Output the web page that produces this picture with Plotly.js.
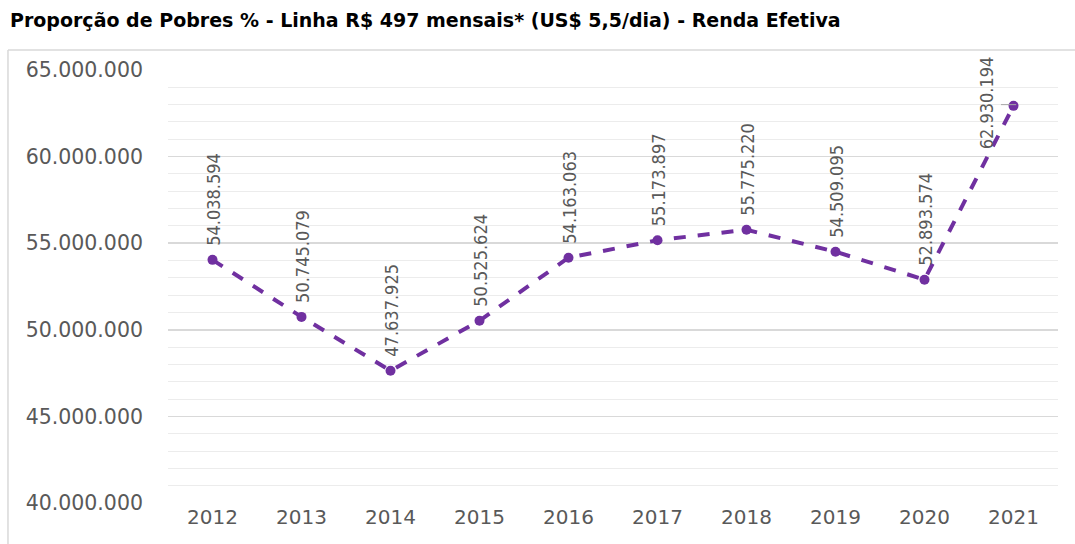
<!DOCTYPE html>
<html>
<head>
<meta charset="utf-8">
<script src="https://cdn.plot.ly/plotly-3.0.1.min.js"></script>
<style>html,body{margin:0;padding:0;background:#fff;}#chart{width:1075px;height:544px;}</style>
</head>
<body>
<div id="chart"></div>
<script>
const years = ['2012','2013','2014','2015','2016','2017','2018','2019','2020','2021'];
const pobres = [54038594, 50745079, 47637925, 50525624, 54163063, 55173897, 55775220, 54509095, 52893574, 62930194];
const yTicks = [40000000, 45000000, 50000000, 55000000, 60000000, 65000000];
const yTickText = ['40.000.000','45.000.000','50.000.000','55.000.000','60.000.000','65.000.000'];
const labels = ['54.038.594','50.745.079','47.637.925','50.525.624','54.163.063','55.173.897','55.775.220','54.509.095','52.893.574','62.930.194'];

const annotations = years.map((y, i) => {
  const last = i === years.length - 1;
  return {
    x: i, y: pobres[i], xref: 'x', yref: 'y',
    text: labels[i], showarrow: false, textangle: -90,
    font: {family: 'DejaVu Sans Condensed, sans-serif', size: 18, color: '#595959'},
    xanchor: 'center', yanchor: last ? 'middle' : 'bottom',
    xshift: last ? -27 : 1, yshift: last ? 3 : 12
  };
});
annotations.push({
  xref: 'paper', yref: 'paper', x: -0.1798, y: 1.115, xanchor: 'left', yanchor: 'middle',
  text: '<b>Proporção de Pobres % - Linha R$ 497 mensais* (US$ 5,5/dia) - Renda Efetiva</b>',
  showarrow: false, font: {family: 'DejaVu Sans, sans-serif', size: 19, color: '#000'}
});

const data = [{
  type: 'scatter', mode: 'lines+markers', x: years, y: pobres,
  line: {color: '#7030a0', width: 4, dash: 'dash'},
  marker: {color: '#7030a0', size: 10},
  hoverinfo: 'skip'
}];

const layout = {
  width: 1075, height: 544,
  margin: {l: 168, r: 17, t: 70, b: 41},
  paper_bgcolor: '#fff', plot_bgcolor: '#fff',
  showlegend: false,
  xaxis: {
    type: 'category', range: [-0.5, 9.5], showgrid: false, zeroline: false,
    showline: false, ticks: '',
    tickfont: {family: 'DejaVu Sans, sans-serif', size: 20, color: '#595959'}
  },
  yaxis: {
    range: [40000000, 65000000], tickvals: yTicks, ticktext: yTickText,
    showgrid: true, gridcolor: '#d9d9d9', gridwidth: 1.5, zeroline: false, showline: false,
    minor: {dtick: 1000000, showgrid: true, gridcolor: '#ececec', gridwidth: 1},
    ticks: '', ticklabelstandoff: 24,
    tickfont: {family: 'DejaVu Sans, sans-serif', size: 20.5, color: '#595959'}
  },
  annotations: annotations,
  shapes: [
    {type: 'line', xref: 'paper', yref: 'paper', x0: -0.1798, x1: 1.1, y0: 1.046, y1: 1.046, line: {color: '#d9d9d9', width: 1.5}},
    {type: 'line', xref: 'paper', yref: 'paper', x0: -0.1798, x1: -0.1798, y0: 1.046, y1: -0.2, line: {color: '#d9d9d9', width: 1.5}},
    {type: 'line', xref: 'x', yref: 'y', x0: 8.86, x1: 9.03, y0: 63000000, y1: 63000000, line: {color: '#a6a6a6', width: 1}}
  ]
};

Plotly.newPlot('chart', data, layout, {displayModeBar: false, staticPlot: true});
</script>
</body>
</html>
